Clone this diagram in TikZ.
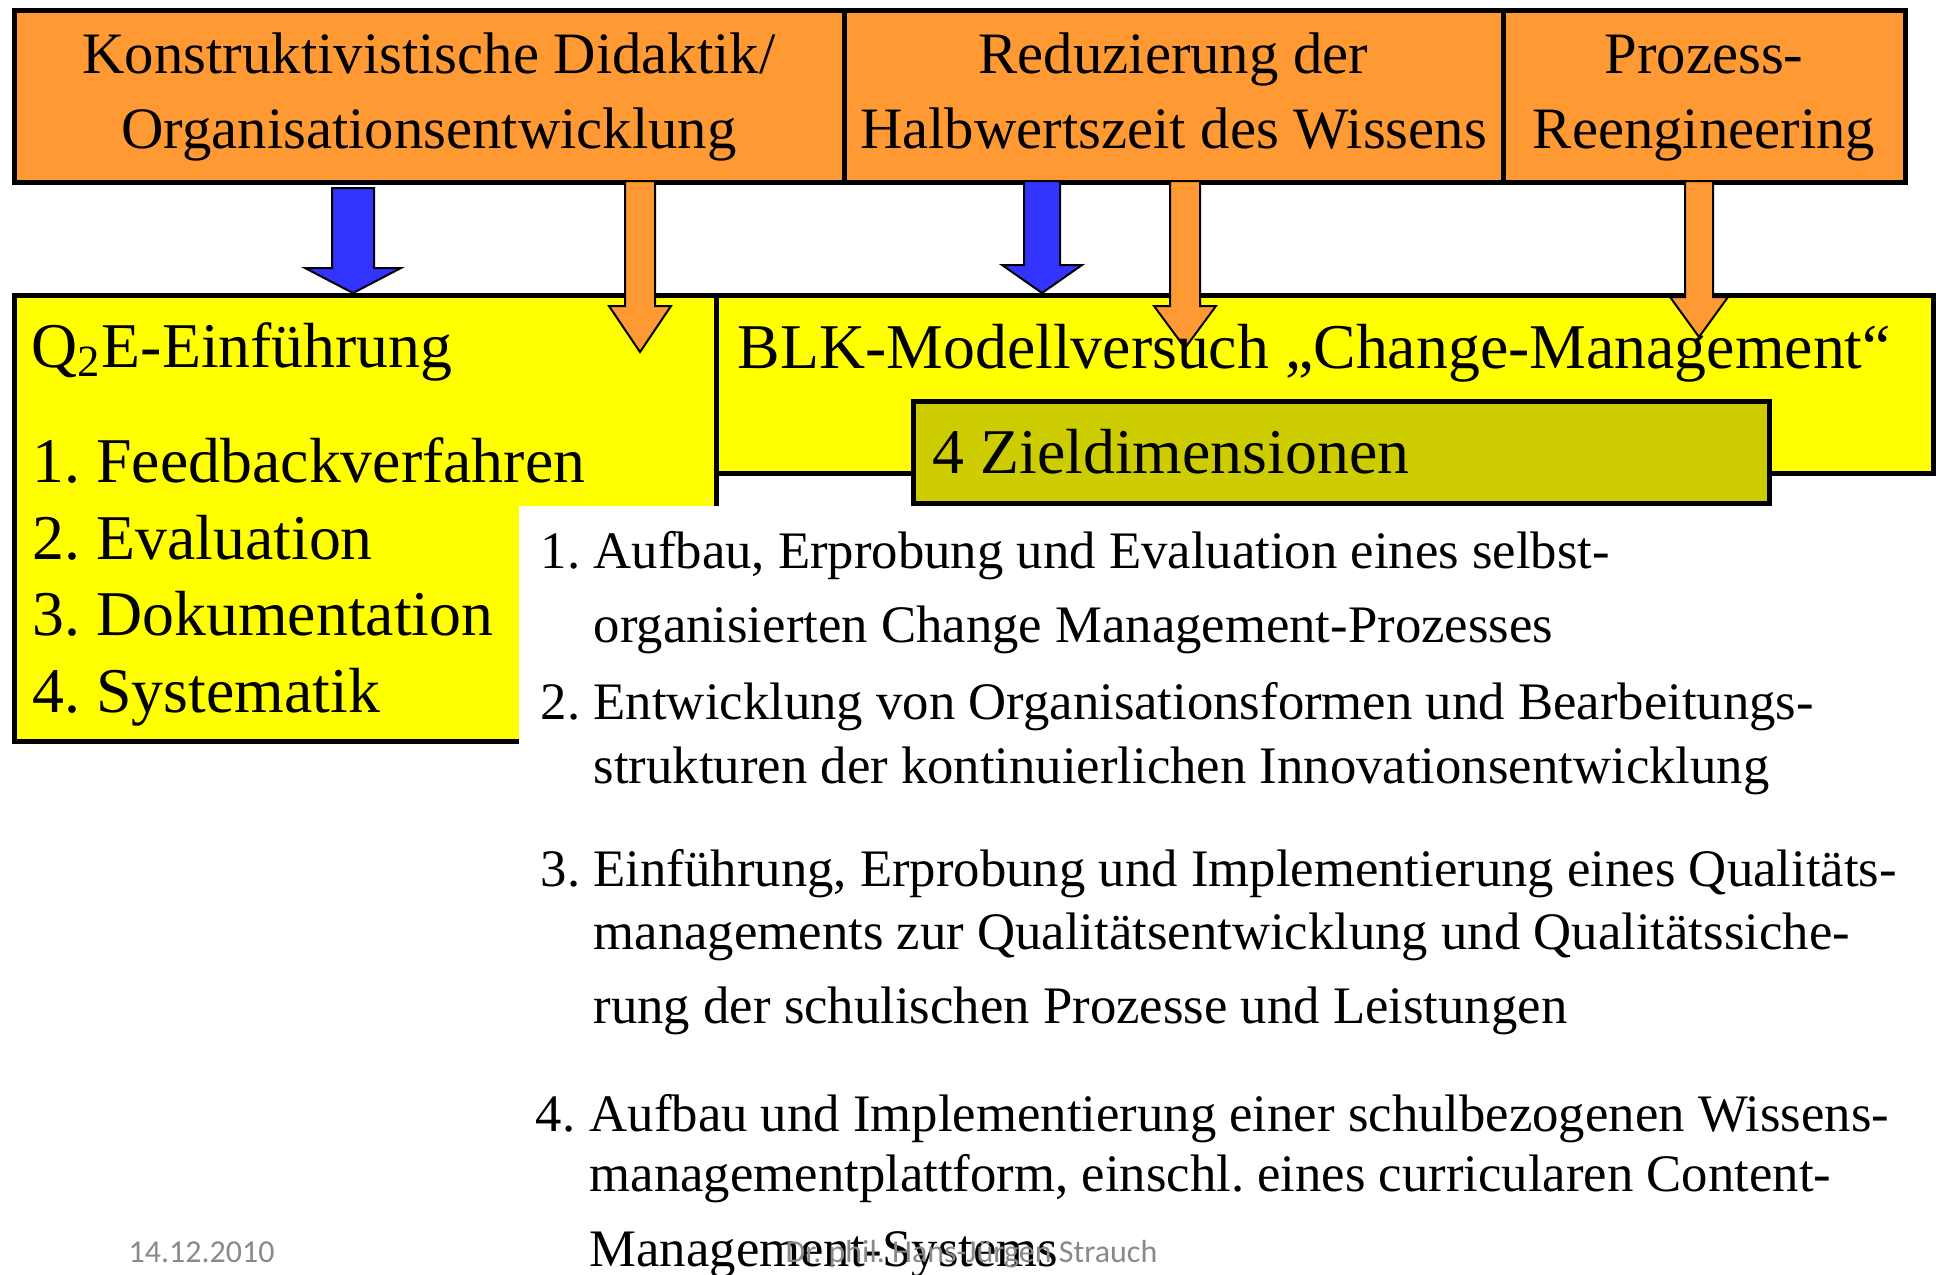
\documentclass[tikz,border=0pt]{standalone}
\usepackage{fontspec}
\setmainfont{Liberation Serif}
\newfontfamily\fusszeile{Carlito}
\usetikzlibrary{positioning}
\frenchspacing

\definecolor{kastenorange}{RGB}{255,153,51}
\definecolor{kastengelb}{RGB}{255,255,0}
\definecolor{zielgelb}{RGB}{204,204,0}
\definecolor{pfeilblau}{RGB}{51,51,255}
\definecolor{fussgrau}{RGB}{137,137,137}

% block arrow: style, x, shaft half width, head half width, top y, head y, tip y
\newcommand{\blockpfeil}[7]{%
  \draw[#1] ({#2-#3},#5) -- ({#2+#3},#5) -- ({#2+#3},#6) -- ({#2+#4},#6)
    -- (#2,#7) -- ({#2-#4},#6) -- ({#2-#3},#6) -- cycle;}

\begin{document}
\begin{tikzpicture}[
    x=0.1mm, y=-0.1mm,
    kopf/.style={draw, line width=0.5mm, fill=kastenorange, minimum height=17.2mm, align=center, inner sep=0pt, font=\fontsize{16.7}{21.2}\selectfont},
    gelb/.style={draw, line width=0.5mm, fill=kastengelb, inner sep=0pt},
    titel/.style={anchor=base west, inner sep=0pt, font=\fontsize{18.15}{22}\selectfont},
    liste/.style={anchor=base west, inner sep=0pt, font=\fontsize{15}{18}\selectfont},
    blaupfeil/.style={draw, line width=0.2mm, fill=pfeilblau},
    orangepfeil/.style={draw, line width=0.2mm, fill=kastenorange},
    fuss/.style={anchor=base west, inner sep=0pt, text=fussgrau, font=\fusszeile\fontsize{9.1}{11}\selectfont}
]
\useasboundingbox (0,0) rectangle (1936,1274);

% Top row
\node[kopf, minimum width=83.0mm] (konstr) at (429,96) {\strut Konstruktivistische Didaktik/\\\strut Organisationsentwicklung};
\node[kopf, minimum width=65.9mm] (halb) at (1173.5,96) {\strut Reduzierung der\\\strut Halbwertszeit des Wissens};
\node[kopf, minimum width=40.2mm] (prozess) at (1704,96) {\strut Prozess-\\\strut Reengineering};

% Yellow boxes
\node[gelb, minimum width=70.2mm, minimum height=44.6mm] (qe) at (365,518) {};
\node[gelb, minimum width=121.7mm, minimum height=17.8mm] (blk) at (1324.5,384) {};
\node[gelb, fill=zielgelb, minimum width=85.6mm, minimum height=10.2mm] (ziel) at (1341,452) {};

% White text frame
\fill[white] (519,506) rectangle (1936,1274);

% Arrows
\blockpfeil{blaupfeil}{353}{21}{48}{188}{268}{293}
\blockpfeil{blaupfeil}{1042}{18}{40}{181}{265}{293}
\blockpfeil{orangepfeil}{640}{15}{31}{181}{306}{352}
\blockpfeil{orangepfeil}{1185}{15}{31}{181}{306}{348}
\blockpfeil{orangepfeil}{1699}{14}{29}{181}{297}{337}

% Box texts
\node[titel] (qetitel) at (31,367) {Q\textsubscript{2}E-Einführung};
\node[titel] (qe1) at (32,482) {1. Feedbackverfahren};
\node[titel] (qe2) at (32,559) {2. Evaluation};
\node[titel] (qe3) at (32,635) {3. Dokumentation};
\node[titel] (qe4) at (32,712) {4. Systematik};
\node[titel] (blktext) at (737,368) {BLK-Modellversuch „Change-Management“};
\node[titel] (zieltext) at (932,473) {4 Zieldimensionen};

% Zieldimensionen list
\node[liste] (n1) at (540,568) {1.};
\node[liste] (z1a) at (593,568) {Aufbau, Erprobung und Evaluation eines selbst-};
\node[liste] (z1b) at (593,642) {organisierten Change Management-Prozesses};
\node[liste] (n2) at (540,719) {2.};
\node[liste] (z2a) at (593,719) {Entwicklung von Organisationsformen und Bearbeitungs-};
\node[liste] (z2b) at (593,783) {strukturen der kontinuierlichen Innovationsentwicklung};
\node[liste] (n3) at (540,886) {3.};
\node[liste] (z3a) at (593,886) {Einführung, Erprobung und Implementierung eines Qualitäts-};
\node[liste] (z3b) at (593,949) {managements zur Qualitätsentwicklung und Qualitätssiche-};
\node[liste] (z3c) at (593,1023) {rung der schulischen Prozesse und Leistungen};
\node[liste] (n4) at (535,1131) {4.};
\node[liste] (z4a) at (589,1131) {Aufbau und Implementierung einer schulbezogenen Wissens-};
\node[liste] (z4b) at (589,1191) {managementplattform, einschl. eines curricularen Content-};
\node[liste] (z4c) at (589,1266) {Management-Systems};

% Footer
\node[fuss] (datum) at (128,1262) {14.12.2010};
\node[fuss] (autor) at (785,1262) {Dr. phil. Hans-Jürgen Strauch};

\end{tikzpicture}
\end{document}
